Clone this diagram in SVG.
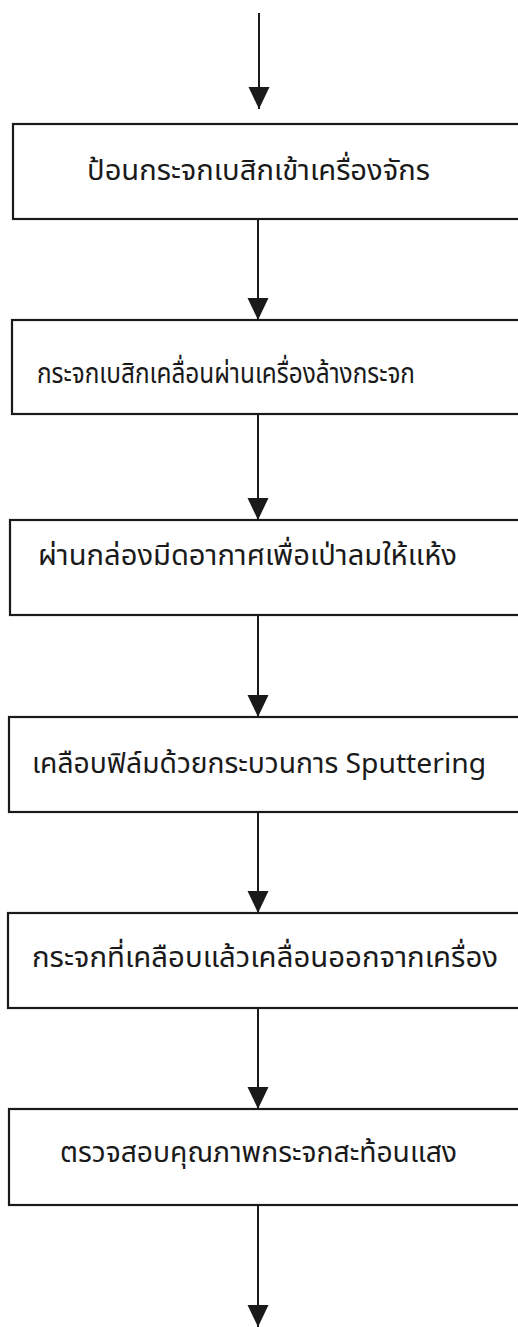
<svg xmlns="http://www.w3.org/2000/svg" width="518" height="1327" viewBox="0 0 518 1327">
<style>
.box{fill:#ffffff;stroke:#1a1a1a;stroke-width:2.2}
.lbl{font-family:"Noto Sans Thai","Noto Sans","DejaVu Sans",sans-serif;font-size:28px;fill:#1a1a1a}
.conn{stroke:#1a1a1a;stroke-width:2;fill:none;marker-end:url(#ah)}
</style>
<defs>
<marker id="ah" markerUnits="userSpaceOnUse" markerWidth="22" markerHeight="22" refX="22" refY="10.5" orient="auto">
<path d="M0,0 L22,10.5 L0,21 Z" fill="#1a1a1a"/>
</marker>
</defs>
<rect width="518" height="1327" fill="#ffffff"/>
<g id="n1"><rect class="box" x="13" y="124" width="520" height="95"/><text class="lbl" x="87" y="180" textLength="343" lengthAdjust="spacingAndGlyphs">ป้อนกระจกเบสิกเข้าเครื่องจักร</text></g>
<g id="n2"><rect class="box" x="12" y="320" width="520" height="94"/><text class="lbl" x="37" y="383" textLength="378" lengthAdjust="spacingAndGlyphs">กระจกเบสิกเคลื่อนผ่านเครื่องล้างกระจก</text></g>
<g id="n3"><rect class="box" x="10" y="520" width="520" height="95"/><text class="lbl" x="38" y="565" textLength="419" lengthAdjust="spacingAndGlyphs">ผ่านกล่องมีดอากาศเพื่อเป่าลมให้แห้ง</text></g>
<g id="n4"><rect class="box" x="9" y="717" width="520" height="95"/><text class="lbl" x="32" y="773" textLength="454" lengthAdjust="spacingAndGlyphs">เคลือบฟิล์มด้วยกระบวนการ Sputtering</text></g>
<g id="n5"><rect class="box" x="8" y="913" width="520" height="95"/><text class="lbl" x="32" y="967" textLength="466" lengthAdjust="spacingAndGlyphs">กระจกที่เคลือบแล้วเคลื่อนออกจากเครื่อง</text></g>
<g id="n6"><rect class="box" x="9" y="1109" width="520" height="96"/><text class="lbl" x="60" y="1162" textLength="397" lengthAdjust="spacingAndGlyphs">ตรวจสอบคุณภาพกระจกสะท้อนแสง</text></g>
<g id="connectors">
<line class="conn" x1="259" y1="13" x2="259" y2="109"/>
<line class="conn" x1="258" y1="219" x2="258" y2="320"/>
<line class="conn" x1="258" y1="414" x2="258" y2="520"/>
<line class="conn" x1="258" y1="615" x2="258" y2="717"/>
<line class="conn" x1="258" y1="812" x2="258" y2="913"/>
<line class="conn" x1="258" y1="1008" x2="258" y2="1109"/>
<line class="conn" x1="258" y1="1205" x2="258" y2="1327"/>
</g>
</svg>
